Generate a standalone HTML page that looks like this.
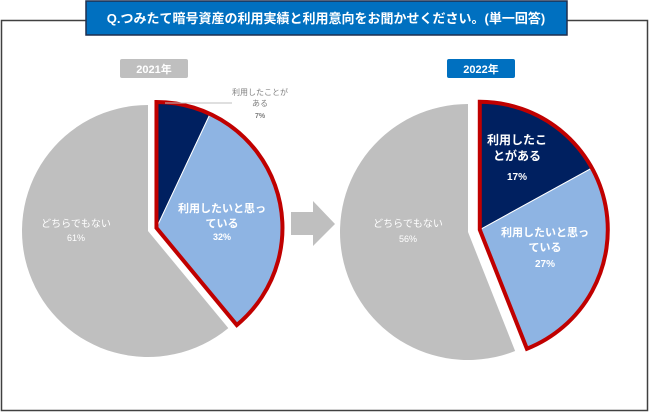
<!DOCTYPE html>
<html><head><meta charset="utf-8"><style>
body{margin:0;background:#fff;width:650px;height:413px;overflow:hidden;font-family:"Liberation Sans","Noto Sans CJK JP",sans-serif}
</style></head><body>
<svg width="650" height="413" viewBox="0 0 650 413" id="svg">
<rect x="1.5" y="20.5" width="646" height="390" fill="#fff" stroke="#404040" stroke-width="1.5"/>
<rect x="86" y="1" width="481" height="34" fill="#0070C0" stroke="#1f2f4f" stroke-width="1.5"/>
<text x="326" y="23" text-anchor="middle" font-size="13" font-weight="bold" fill="#fff">Q.つみたて暗号資産の利用実績と利用意向をお聞かせください。(単一回答)</text>
<rect x="120" y="59" width="68" height="19" rx="2" fill="#BFBFBF"/>
<text x="154" y="73" text-anchor="middle" font-size="11" font-weight="bold" fill="#fff">2021年</text>
<rect x="447" y="59" width="68" height="19" rx="2" fill="#0070C0"/>
<text x="481" y="73" text-anchor="middle" font-size="11" font-weight="bold" fill="#fff">2022年</text>
<path d="M291 212 H313 V201 L335 224 L313 246 V235 H291 Z" fill="#BFBFBF"/>
<g id="pies"></g>
</svg>
<script>
const categories=["利用したことがある","利用したいと思っている","どちらでもない"];
const values2021=[7,32,61];
const values2022=[17,27,56];
const colors=["#002060","#8EB4E3","#BFBFBF"];
const ns="http://www.w3.org/2000/svg";
const g=document.getElementById('pies');
function pt(cx,cy,r,f){const a=f*2*Math.PI;return [cx+r*Math.sin(a),cy-r*Math.cos(a)];}
function arc(cx,cy,r,f0,f1){const p0=pt(cx,cy,r,f0),p1=pt(cx,cy,r,f1);const large=(f1-f0)>0.5?1:0;
return `M${cx} ${cy} L${p0[0]} ${p0[1]} A${r} ${r} 0 ${large} 1 ${p1[0]} ${p1[1]} Z`;}
function mk(tag,attrs,name){const e=document.createElementNS(ns,tag);for(const k in attrs)e.setAttribute(k,attrs[k]);


g.appendChild(e);return e;}
function txt(x,y,lines,size,fill,weight,name){const t=mk('text',{x:x,y:y,'text-anchor':'middle','font-size':size,fill:fill,'font-weight':weight},name);
lines.forEach((l,i)=>{const s=document.createElementNS(ns,'tspan');s.setAttribute('x',x);s.setAttribute('dy',i?size*1.35:0);s.textContent=l;t.appendChild(s);});}
function pie(cx,cy,r,vals,year,off){
 const tot=vals.reduce((a,b)=>a+b,0);
 const f1=vals[0]/tot,f2=(vals[0]+vals[1])/tot;
 mk('path',{d:arc(cx,cy,r,f2,1),fill:colors[2]},'slice-neither-'+year);
 const mid=f2/2*2*Math.PI;
 const ex=cx+off*Math.sin(mid), ey=cy-off*Math.cos(mid);
 mk('path',{d:arc(ex,ey,r,0,f1),fill:colors[0],stroke:'#fff','stroke-width':1},'slice-used-'+year);
 mk('path',{d:arc(ex,ey,r,f1,f2),fill:colors[1],stroke:'#fff','stroke-width':1},'slice-want-'+year);
 mk('path',{d:arc(ex,ey,r,0,f2),fill:'none',stroke:'#C00000','stroke-width':4,'stroke-linejoin':'miter'},'highlight-outline-'+year);
 return {ex,ey,f1,f2};
}
const a=pie(148,231,126,values2021,'2021',9);
const b=pie(468,232,128,values2022,'2022',12);
// labels 2021
mk('line',{x1:165,y1:103,x2:232,y2:103,stroke:'#BFBFBF','stroke-width':1},'leader-line-2021');
txt(260,95,["利用したことが","ある"],8,'#808080','normal','label-used-2021');
txt(260,118,[values2021[0]+"%"],7,'#808080','bold','value-used-2021');
txt(222,212,["利用したいと思っ","ている"],11,'#fff','bold','label-want-2021');
txt(222,240,[values2021[1]+"%"],9,'#fff','bold','value-want-2021');
txt(76,227,["どちらでもない"],10,'#fff','normal','label-neither-2021');
txt(76,241,[values2021[2]+"%"],9,'#fff','normal','value-neither-2021');
// labels 2022
txt(517,144,["利用したこ","とがある"],12,'#fff','bold','label-used-2022');
txt(517,180,[values2022[0]+"%"],10,'#fff','bold','value-used-2022');
txt(545,236,["利用したいと思っ","ている"],11,'#fff','bold','label-want-2022');
txt(545,267,[values2022[1]+"%"],10,'#fff','bold','value-want-2022');
txt(408,227,["どちらでもない"],10,'#fff','normal','label-neither-2022');
txt(408,242,[values2022[2]+"%"],9,'#fff','normal','value-neither-2022');
</script>
</body></html>
